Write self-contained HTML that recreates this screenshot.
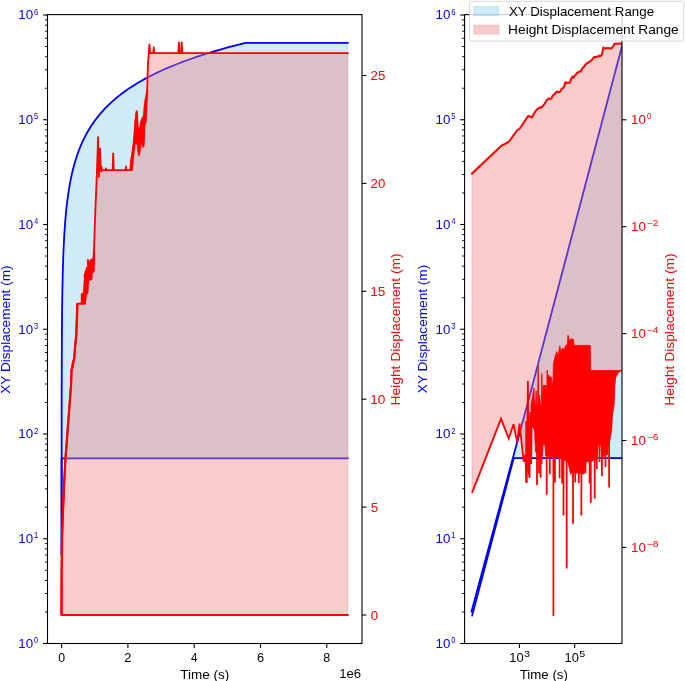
<!DOCTYPE html>
<html><head><meta charset="utf-8"><title>Displacement</title>
<style>html,body{margin:0;padding:0;background:#fff;overflow:hidden}svg{display:block;will-change:transform}</style>
</head><body>
<svg width="685" height="681" viewBox="0 0 685 681" font-family='"Liberation Sans", sans-serif'><defs><clipPath id="cl"><rect x="47.50" y="14.60" width="314.50" height="628.90"/></clipPath>
<clipPath id="cr"><rect x="464.60" y="14.60" width="157.40" height="628.90"/></clipPath></defs>
<g clip-path="url(#cl)">
<polygon points="61.60,614.63 61.60,611.02 61.60,608.92 61.60,606.83 61.60,604.73 61.60,602.64 61.60,600.54 61.60,598.45 61.60,596.35 61.60,594.26 61.60,592.16 61.60,590.07 61.60,587.97 61.60,585.88 61.60,583.78 61.60,581.69 61.60,579.59 61.60,577.50 61.60,575.40 61.60,573.31 61.60,571.21 61.60,569.12 61.60,567.02 61.60,564.93 61.60,562.83 61.60,560.74 61.60,558.64 61.60,556.55 61.60,554.45 61.60,552.36 61.60,550.26 61.60,548.17 61.60,546.07 61.60,543.98 61.60,541.88 61.60,539.79 61.60,537.69 61.60,535.60 61.60,533.50 61.60,531.41 61.60,529.31 61.60,527.22 61.60,525.12 61.60,523.03 61.61,520.93 61.61,518.84 61.61,516.74 61.61,514.65 61.61,512.55 61.61,510.46 61.61,508.36 61.61,506.27 61.61,504.17 61.61,502.08 61.61,499.98 61.61,497.89 61.61,495.79 61.61,493.70 61.61,491.60 61.61,489.51 61.61,487.41 61.61,485.32 61.61,483.22 61.61,481.13 61.61,479.03 61.61,476.94 61.61,474.84 61.61,472.75 61.62,470.65 61.62,468.56 61.62,466.46 61.62,464.37 61.62,462.27 61.62,460.18 61.62,458.08 61.62,455.99 61.62,453.89 61.62,451.80 61.62,449.70 61.63,447.61 61.63,445.51 61.63,443.42 61.63,441.32 61.63,439.23 61.63,437.13 61.63,435.04 61.63,432.94 61.64,430.85 61.64,428.75 61.64,426.66 61.64,424.56 61.64,422.47 61.65,420.37 61.65,418.28 61.65,416.18 61.65,414.09 61.66,411.99 61.66,409.90 61.66,407.80 61.66,405.71 61.67,403.61 61.67,401.52 61.67,399.42 61.68,397.33 61.68,395.23 61.68,393.14 61.69,391.04 61.69,388.95 61.70,386.85 61.70,384.76 61.70,382.66 61.71,380.57 61.71,378.47 61.72,376.38 61.73,374.28 61.73,372.19 61.74,370.09 61.74,368.00 61.75,365.90 61.76,363.81 61.77,361.71 61.77,359.62 61.78,357.52 61.79,355.43 61.80,353.33 61.81,351.24 61.82,349.14 61.83,347.05 61.84,344.95 61.85,342.86 61.86,340.76 61.88,338.67 61.89,336.57 61.90,334.48 61.92,332.38 61.93,330.29 61.95,328.19 61.96,326.10 61.98,324.00 62.00,321.91 62.02,319.81 62.04,317.72 62.06,315.62 62.08,313.53 62.10,311.43 62.13,309.34 62.15,307.24 62.18,305.15 62.20,303.05 62.23,300.96 62.26,298.86 62.29,296.77 62.33,294.67 62.36,292.58 62.40,290.48 62.43,288.39 62.47,286.29 62.51,284.20 62.56,282.10 62.60,280.01 62.65,277.91 62.70,275.82 62.75,273.72 62.80,271.63 62.86,269.53 62.92,267.44 62.98,265.34 63.05,263.25 63.12,261.15 63.19,259.06 63.26,256.96 63.34,254.87 63.42,252.77 63.51,250.68 63.60,248.58 63.69,246.49 63.79,244.39 63.89,242.30 64.00,240.20 64.11,238.11 64.23,236.01 64.36,233.92 64.49,231.82 64.62,229.73 64.77,227.63 64.92,225.54 65.07,223.44 65.23,221.35 65.41,219.25 65.59,217.16 65.77,215.06 65.97,212.97 66.18,210.87 66.39,208.78 66.62,206.68 66.85,204.59 67.10,202.49 67.36,200.40 67.63,198.30 67.92,196.21 68.21,194.11 68.53,192.02 68.85,189.92 69.19,187.83 69.55,185.73 69.93,183.64 70.32,181.54 70.73,179.45 71.16,177.35 71.61,175.26 72.08,173.16 72.58,171.07 73.09,168.97 73.64,166.88 74.20,164.78 74.80,162.69 75.42,160.59 76.07,158.50 76.75,156.40 77.47,154.31 78.21,152.21 79.00,150.12 79.82,148.02 80.68,145.93 81.57,143.83 82.52,141.74 83.50,139.64 84.53,137.55 85.62,135.45 86.75,133.36 87.93,131.26 89.17,129.17 90.47,127.07 91.83,124.98 93.26,122.88 94.75,120.79 96.31,118.69 97.95,116.60 99.66,114.50 101.46,112.41 103.33,110.31 105.30,108.22 107.36,106.12 109.52,104.03 111.77,101.93 114.14,99.84 116.62,97.74 119.21,95.65 121.92,93.55 124.77,91.46 127.74,89.36 130.86,87.27 134.12,85.17 137.54,83.08 141.12,80.98 144.87,78.89 148.79,76.79 152.90,74.70 157.21,72.60 161.71,70.51 166.43,68.41 171.37,66.32 176.54,64.22 181.96,62.13 187.63,60.03 193.57,57.94 199.79,55.84 206.30,53.75 213.12,51.65 220.27,49.56 227.74,47.46 235.57,45.37 243.77,43.27 245.09,42.95 347.78,42.95 347.78,458.47 245.09,458.47 243.77,458.47 235.57,458.47 227.74,458.47 220.27,458.47 213.12,458.47 206.30,458.47 199.79,458.47 193.57,458.47 187.63,458.47 181.96,458.47 176.54,458.47 171.37,458.47 166.43,458.47 161.71,458.47 157.21,458.47 152.90,458.47 148.79,458.47 144.87,458.47 141.12,458.47 137.54,458.47 134.12,458.47 130.86,458.47 127.74,458.47 124.77,458.47 121.92,458.47 119.21,458.47 116.62,458.47 114.14,458.47 111.77,458.47 109.52,458.47 107.36,458.47 105.30,458.47 103.33,458.47 101.46,458.47 99.66,458.47 97.95,458.47 96.31,458.47 94.75,458.47 93.26,458.47 91.83,458.47 90.47,458.47 89.17,458.47 87.93,458.47 86.75,458.47 85.62,458.47 84.53,458.47 83.50,458.47 82.52,458.47 81.57,458.47 80.68,458.47 79.82,458.47 79.00,458.47 78.21,458.47 77.47,458.47 76.75,458.47 76.07,458.47 75.42,458.47 74.80,458.47 74.20,458.47 73.64,458.47 73.09,458.47 72.58,458.47 72.08,458.47 71.61,458.47 71.16,458.47 70.73,458.47 70.32,458.47 69.93,458.47 69.55,458.47 69.19,458.47 68.85,458.47 68.53,458.47 68.21,458.47 67.92,458.47 67.63,458.47 67.36,458.47 67.10,458.47 66.85,458.47 66.62,458.47 66.39,458.47 66.18,458.47 65.97,458.47 65.77,458.47 65.59,458.47 65.41,458.47 65.23,458.47 65.07,458.47 64.92,458.47 64.77,458.47 64.62,458.47 64.49,458.47 64.36,458.47 64.23,458.47 64.11,458.47 64.00,458.47 63.89,458.47 63.79,458.47 63.69,458.47 63.60,458.47 63.51,458.47 63.42,458.47 63.34,458.47 63.26,458.47 63.19,458.47 63.12,458.47 63.05,458.47 62.98,458.47 62.92,458.47 62.86,458.47 62.80,458.47 62.75,458.47 62.70,458.47 62.65,458.47 62.60,458.47 62.56,458.47 62.51,458.47 62.47,458.47 62.43,458.47 62.40,458.47 62.36,458.47 62.33,458.47 62.29,458.47 62.26,458.47 62.23,458.47 62.20,458.47 62.18,458.47 62.15,458.47 62.13,458.47 62.10,458.47 62.08,458.47 62.06,458.47 62.04,458.47 62.02,458.47 62.00,458.47 61.98,458.47 61.96,458.47 61.95,458.47 61.93,458.47 61.92,458.47 61.90,458.47 61.89,458.47 61.88,458.47 61.86,458.47 61.85,458.47 61.84,458.47 61.83,458.47 61.82,458.47 61.81,458.47 61.80,458.47 61.79,458.47 61.78,458.47 61.77,458.47 61.77,458.47 61.76,458.47 61.75,458.47 61.74,458.47 61.74,458.47 61.73,458.47 61.73,458.47 61.72,458.47 61.71,458.47 61.71,458.47 61.70,458.47 61.70,458.47 61.70,458.47 61.69,458.47 61.69,458.47 61.68,458.47 61.68,458.47 61.68,458.47 61.67,458.47 61.67,458.47 61.67,458.47 61.66,458.47 61.66,458.47 61.66,458.47 61.66,458.47 61.65,458.47 61.65,458.47 61.65,458.47 61.65,458.47 61.64,458.47 61.64,458.47 61.64,458.47 61.64,458.47 61.64,458.47 61.63,458.47 61.63,458.47 61.63,458.47 61.63,458.47 61.63,458.47 61.63,458.47 61.63,458.47 61.63,458.47 61.62,458.47 61.62,458.47 61.62,458.47 61.62,458.47 61.62,458.47 61.62,460.18 61.62,462.27 61.62,464.37 61.62,466.46 61.62,468.56 61.62,470.65 61.61,472.75 61.61,474.84 61.61,476.94 61.61,479.03 61.61,481.13 61.61,483.22 61.61,485.32 61.61,487.41 61.61,489.51 61.61,491.60 61.61,493.70 61.61,495.79 61.61,497.89 61.61,499.98 61.61,502.08 61.61,504.17 61.61,506.27 61.61,508.36 61.61,510.46 61.61,512.55 61.61,514.65 61.61,516.74 61.61,518.84 61.61,520.93 61.60,523.03 61.60,525.12 61.60,527.22 61.60,529.31 61.60,531.41 61.60,533.50 61.60,535.60 61.60,537.69 61.60,539.79 61.60,541.88 61.60,543.98 61.60,546.07 61.60,548.17 61.60,550.26 61.60,552.36 61.60,554.45 61.60,556.55 61.60,558.64 61.60,560.74 61.60,562.83 61.60,564.93 61.60,567.02 61.60,569.12 61.60,571.21 61.60,573.31 61.60,575.40 61.60,577.50 61.60,579.59 61.60,581.69 61.60,583.78 61.60,585.88 61.60,587.97 61.60,590.07 61.60,592.16 61.60,594.26 61.60,596.35 61.60,598.45 61.60,600.54 61.60,602.64 61.60,604.73 61.60,606.83 61.60,608.92 61.60,611.02 61.60,614.63" fill="rgba(135,206,235,0.4)" stroke="rgba(135,206,235,0.4)" stroke-width="1"/>
<polyline points="61.60,554.45 61.60,552.36 61.60,550.26 61.60,548.17 61.60,546.07 61.60,543.98 61.60,541.88 61.60,539.79 61.60,537.69 61.60,535.60 61.60,533.50 61.60,531.41 61.60,529.31 61.60,527.22 61.60,525.12 61.60,523.03 61.61,520.93 61.61,518.84 61.61,516.74 61.61,514.65 61.61,512.55 61.61,510.46 61.61,508.36 61.61,506.27 61.61,504.17 61.61,502.08 61.61,499.98 61.61,497.89 61.61,495.79 61.61,493.70 61.61,491.60 61.61,489.51 61.61,487.41 61.61,485.32 61.61,483.22 61.61,481.13 61.61,479.03 61.61,476.94 61.61,474.84 61.61,472.75 61.62,470.65 61.62,468.56 61.62,466.46 61.62,464.37 61.62,462.27 61.62,460.18 61.62,458.08 61.62,455.99 61.62,453.89 61.62,451.80 61.62,449.70 61.63,447.61 61.63,445.51 61.63,443.42 61.63,441.32 61.63,439.23 61.63,437.13 61.63,435.04 61.63,432.94 61.64,430.85 61.64,428.75 61.64,426.66 61.64,424.56 61.64,422.47 61.65,420.37 61.65,418.28 61.65,416.18 61.65,414.09 61.66,411.99 61.66,409.90 61.66,407.80 61.66,405.71 61.67,403.61 61.67,401.52 61.67,399.42 61.68,397.33 61.68,395.23 61.68,393.14 61.69,391.04 61.69,388.95 61.70,386.85 61.70,384.76 61.70,382.66 61.71,380.57 61.71,378.47 61.72,376.38 61.73,374.28 61.73,372.19 61.74,370.09 61.74,368.00 61.75,365.90 61.76,363.81 61.77,361.71 61.77,359.62 61.78,357.52 61.79,355.43 61.80,353.33 61.81,351.24 61.82,349.14 61.83,347.05 61.84,344.95 61.85,342.86 61.86,340.76 61.88,338.67 61.89,336.57 61.90,334.48 61.92,332.38 61.93,330.29 61.95,328.19 61.96,326.10 61.98,324.00 62.00,321.91 62.02,319.81 62.04,317.72 62.06,315.62 62.08,313.53 62.10,311.43 62.13,309.34 62.15,307.24 62.18,305.15 62.20,303.05 62.23,300.96 62.26,298.86 62.29,296.77 62.33,294.67 62.36,292.58 62.40,290.48 62.43,288.39 62.47,286.29 62.51,284.20 62.56,282.10 62.60,280.01 62.65,277.91 62.70,275.82 62.75,273.72 62.80,271.63 62.86,269.53 62.92,267.44 62.98,265.34 63.05,263.25 63.12,261.15 63.19,259.06 63.26,256.96 63.34,254.87 63.42,252.77 63.51,250.68 63.60,248.58 63.69,246.49 63.79,244.39 63.89,242.30 64.00,240.20 64.11,238.11 64.23,236.01 64.36,233.92 64.49,231.82 64.62,229.73 64.77,227.63 64.92,225.54 65.07,223.44 65.23,221.35 65.41,219.25 65.59,217.16 65.77,215.06 65.97,212.97 66.18,210.87 66.39,208.78 66.62,206.68 66.85,204.59 67.10,202.49 67.36,200.40 67.63,198.30 67.92,196.21 68.21,194.11 68.53,192.02 68.85,189.92 69.19,187.83 69.55,185.73 69.93,183.64 70.32,181.54 70.73,179.45 71.16,177.35 71.61,175.26 72.08,173.16 72.58,171.07 73.09,168.97 73.64,166.88 74.20,164.78 74.80,162.69 75.42,160.59 76.07,158.50 76.75,156.40 77.47,154.31 78.21,152.21 79.00,150.12 79.82,148.02 80.68,145.93 81.57,143.83 82.52,141.74 83.50,139.64 84.53,137.55 85.62,135.45 86.75,133.36 87.93,131.26 89.17,129.17 90.47,127.07 91.83,124.98 93.26,122.88 94.75,120.79 96.31,118.69 97.95,116.60 99.66,114.50 101.46,112.41 103.33,110.31 105.30,108.22 107.36,106.12 109.52,104.03 111.77,101.93 114.14,99.84 116.62,97.74 119.21,95.65 121.92,93.55 124.77,91.46 127.74,89.36 130.86,87.27 134.12,85.17 137.54,83.08 141.12,80.98 144.87,78.89 148.79,76.79 152.90,74.70 157.21,72.60 161.71,70.51 166.43,68.41 171.37,66.32 176.54,64.22 181.96,62.13 187.63,60.03 193.57,57.94 199.79,55.84 206.30,53.75 213.12,51.65 220.27,49.56 227.74,47.46 235.57,45.37 243.77,43.27 245.09,42.95 347.78,42.95" fill="none" stroke="#0000ff" stroke-width="1.80" stroke-linejoin="round" stroke-linecap="square"/>
<polyline points="61.60,554.45 61.60,552.36 61.60,550.26 61.60,548.17 61.60,546.07 61.60,543.98 61.60,541.88 61.60,539.79 61.60,537.69 61.60,535.60 61.60,533.50 61.60,531.41 61.60,529.31 61.60,527.22 61.60,525.12 61.60,523.03 61.61,520.93 61.61,518.84 61.61,516.74 61.61,514.65 61.61,512.55 61.61,510.46 61.61,508.36 61.61,506.27 61.61,504.17 61.61,502.08 61.61,499.98 61.61,497.89 61.61,495.79 61.61,493.70 61.61,491.60 61.61,489.51 61.61,487.41 61.61,485.32 61.61,483.22 61.61,481.13 61.61,479.03 61.61,476.94 61.61,474.84 61.61,472.75 61.62,470.65 61.62,468.56 61.62,466.46 61.62,464.37 61.62,462.27 61.62,460.18 61.62,458.47 61.62,458.47 61.62,458.47 61.62,458.47 61.62,458.47 61.63,458.47 61.63,458.47 61.63,458.47 61.63,458.47 61.63,458.47 61.63,458.47 61.63,458.47 61.63,458.47 61.64,458.47 61.64,458.47 61.64,458.47 61.64,458.47 61.64,458.47 61.65,458.47 61.65,458.47 61.65,458.47 61.65,458.47 61.66,458.47 61.66,458.47 61.66,458.47 61.66,458.47 61.67,458.47 61.67,458.47 61.67,458.47 61.68,458.47 61.68,458.47 61.68,458.47 61.69,458.47 61.69,458.47 61.70,458.47 61.70,458.47 61.70,458.47 61.71,458.47 61.71,458.47 61.72,458.47 61.73,458.47 61.73,458.47 61.74,458.47 61.74,458.47 61.75,458.47 61.76,458.47 61.77,458.47 61.77,458.47 61.78,458.47 61.79,458.47 61.80,458.47 61.81,458.47 61.82,458.47 61.83,458.47 61.84,458.47 61.85,458.47 61.86,458.47 61.88,458.47 61.89,458.47 61.90,458.47 61.92,458.47 61.93,458.47 61.95,458.47 61.96,458.47 61.98,458.47 62.00,458.47 62.02,458.47 62.04,458.47 62.06,458.47 62.08,458.47 62.10,458.47 62.13,458.47 62.15,458.47 62.18,458.47 62.20,458.47 62.23,458.47 62.26,458.47 62.29,458.47 62.33,458.47 62.36,458.47 62.40,458.47 62.43,458.47 62.47,458.47 62.51,458.47 62.56,458.47 62.60,458.47 62.65,458.47 62.70,458.47 62.75,458.47 62.80,458.47 62.86,458.47 62.92,458.47 62.98,458.47 63.05,458.47 63.12,458.47 63.19,458.47 63.26,458.47 63.34,458.47 63.42,458.47 63.51,458.47 63.60,458.47 63.69,458.47 63.79,458.47 63.89,458.47 64.00,458.47 64.11,458.47 64.23,458.47 64.36,458.47 64.49,458.47 64.62,458.47 64.77,458.47 64.92,458.47 65.07,458.47 65.23,458.47 65.41,458.47 65.59,458.47 65.77,458.47 65.97,458.47 66.18,458.47 66.39,458.47 66.62,458.47 66.85,458.47 67.10,458.47 67.36,458.47 67.63,458.47 67.92,458.47 68.21,458.47 68.53,458.47 68.85,458.47 69.19,458.47 69.55,458.47 69.93,458.47 70.32,458.47 70.73,458.47 71.16,458.47 71.61,458.47 72.08,458.47 72.58,458.47 73.09,458.47 73.64,458.47 74.20,458.47 74.80,458.47 75.42,458.47 76.07,458.47 76.75,458.47 77.47,458.47 78.21,458.47 79.00,458.47 79.82,458.47 80.68,458.47 81.57,458.47 82.52,458.47 83.50,458.47 84.53,458.47 85.62,458.47 86.75,458.47 87.93,458.47 89.17,458.47 90.47,458.47 91.83,458.47 93.26,458.47 94.75,458.47 96.31,458.47 97.95,458.47 99.66,458.47 101.46,458.47 103.33,458.47 105.30,458.47 107.36,458.47 109.52,458.47 111.77,458.47 114.14,458.47 116.62,458.47 119.21,458.47 121.92,458.47 124.77,458.47 127.74,458.47 130.86,458.47 134.12,458.47 137.54,458.47 141.12,458.47 144.87,458.47 148.79,458.47 152.90,458.47 157.21,458.47 161.71,458.47 166.43,458.47 171.37,458.47 176.54,458.47 181.96,458.47 187.63,458.47 193.57,458.47 199.79,458.47 206.30,458.47 213.12,458.47 220.27,458.47 227.74,458.47 235.57,458.47 243.77,458.47 245.09,458.47 347.78,458.47" fill="none" stroke="#0000ff" stroke-width="1.80" stroke-linejoin="round" stroke-linecap="square"/>
</g>
<polygon points="61.50,615.00 61.60,569.00 62.10,536.00 63.30,503.00 64.30,480.00 65.50,457.80 67.00,438.70 69.20,409.40 71.10,384.00 71.50,369.60 73.00,362.00 72.60,367.00 74.30,358.00 75.00,347.70 76.30,334.80 77.40,303.60 84.70,303.60 84.00,296.00 85.50,300.00 86.00,290.00 84.60,275.00 88.00,282.00 86.50,268.00 90.50,276.00 88.50,261.00 93.00,272.00 91.50,260.00 94.20,265.00 94.00,250.00 94.70,228.80 95.40,209.40 96.80,175.90 98.10,137.10 98.90,176.80 100.00,148.50 100.70,166.20 101.20,171.50 101.60,166.90 102.00,170.10 105.50,170.10 105.90,168.40 106.30,170.10 112.60,170.10 113.20,153.30 113.80,170.10 125.50,170.10 126.00,166.50 126.50,170.10 130.20,170.10 133.50,145.00 136.50,112.00 138.50,150.00 139.80,128.00 141.20,140.00 142.50,125.00 143.50,142.00 145.00,110.00 146.50,100.00 147.20,90.00 147.90,64.40 148.90,52.90 149.40,44.30 150.20,53.20 153.20,53.20 153.70,47.50 154.20,53.20 178.40,53.20 178.90,42.30 179.60,53.20 181.20,53.20 181.70,42.30 182.30,53.20 347.80,53.20 347.80,615.00 61.60,615.00" fill="rgba(240,128,128,0.4)" stroke="rgba(240,128,128,0.4)" stroke-width="1"/>
<polyline points="61.50,615.00 61.60,569.00 62.10,536.00 63.30,503.00 64.30,480.00 65.50,457.80 67.00,438.70 69.20,409.40 71.10,384.00 71.50,369.60 73.00,362.00 72.60,367.00 74.30,358.00 75.00,347.70 76.30,334.80 77.40,303.60 84.70,303.60 84.00,296.00 85.50,300.00 86.00,290.00 84.60,275.00 88.00,282.00 86.50,268.00 90.50,276.00 88.50,261.00 93.00,272.00 91.50,260.00 94.20,265.00 94.00,250.00 94.70,228.80 95.40,209.40 96.80,175.90 98.10,137.10 98.90,176.80 100.00,148.50 100.70,166.20 101.20,171.50 101.60,166.90 102.00,170.10 105.50,170.10 105.90,168.40 106.30,170.10 112.60,170.10 113.20,153.30 113.80,170.10 125.50,170.10 126.00,166.50 126.50,170.10 130.20,170.10 133.50,145.00 136.50,112.00 138.50,150.00 139.80,128.00 141.20,140.00 142.50,125.00 143.50,142.00 145.00,110.00 146.50,100.00 147.20,90.00 147.90,64.40 148.90,52.90 149.40,44.30 150.20,53.20 153.20,53.20 153.70,47.50 154.20,53.20 178.40,53.20 178.90,42.30 179.60,53.20 181.20,53.20 181.70,42.30 182.30,53.20 347.80,53.20" fill="none" stroke="#ff0000" stroke-width="1.80" stroke-linejoin="round" stroke-linecap="square"/>
<line x1="61.6" y1="615" x2="347.8" y2="615" stroke="#ff0000" stroke-width="1.80" stroke-linecap="square"/>
<polyline points="61.50,614.50 61.60,590.00 61.70,569.00 62.10,536.00 63.30,503.00 64.30,480.00 65.50,457.80 67.00,438.70 69.20,409.40 71.10,384.00 71.50,369.60 72.60,367.00 73.00,362.00 74.30,358.00 75.00,347.70 76.30,334.80 77.40,303.60" fill="none" stroke="#ff0000" stroke-width="2.3" stroke-linejoin="round" stroke-linecap="butt"/>
<polygon points="77.10,303.30 81.00,303.30 81.00,293.60 82.80,293.60 83.30,290.00 84.60,272.90 85.00,270.30 87.20,270.30 87.20,259.30 88.50,259.30 89.40,263.70 90.30,259.30 92.50,258.80 93.40,250.00 94.70,250.00 94.70,271.10 92.50,272.90 92.10,280.00 89.00,280.40 88.10,294.00 85.90,294.50 85.50,304.20 77.50,304.20" fill="#ff0000" stroke="#ff0000" stroke-width="0.4"/>
<polygon points="130.00,170.50 130.40,160.00 132.80,147.80 134.00,138.20 134.60,121.30 135.80,114.10 136.40,110.50 137.60,111.10 138.20,123.70 139.40,135.80 140.00,122.50 141.90,117.70 143.10,115.90 144.30,102.00 145.50,96.00 146.70,90.00 147.90,90.00 147.30,102.00 146.70,120.10 144.90,127.30 144.30,146.60 142.50,147.80 141.90,141.80 139.40,156.30 138.20,155.10 137.00,144.20 135.20,144.20 133.40,162.30 132.80,170.50" fill="#ff0000" stroke="#ff0000" stroke-width="0.4"/>
<g clip-path="url(#cr)">
<polygon points="472.00,613.50 471.50,611.60 530.00,394.53 640.00,-22.15 640.00,458.20 513.69,458.20 472.20,615.50" fill="rgba(135,206,235,0.4)" stroke="rgba(135,206,235,0.4)" stroke-width="1"/>
<polyline points="471.50,611.60 530.00,394.53 640.00,-22.15" fill="none" stroke="#0000ff" stroke-width="1.80" stroke-linejoin="round" stroke-linecap="square"/>
<polyline points="472.20,615.50 513.69,458.20 640.00,458.20" fill="none" stroke="#0000ff" stroke-width="1.80" stroke-linejoin="round" stroke-linecap="square"/>
<polygon points="472.00,173.50 501.10,146.00 508.70,141.90 517.00,130.50 519.60,128.70 528.10,116.00 532.00,117.30 535.50,111.10 537.20,109.30 539.90,107.20 542.50,106.70 545.60,102.00 548.70,98.30 550.50,98.90 554.90,93.90 557.40,91.50 559.20,92.10 563.00,88.30 565.40,82.10 569.80,82.80 572.30,76.60 573.50,77.80 577.80,72.80 580.90,71.60 583.40,67.30 587.10,62.90 591.50,60.40 594.00,57.10 597.70,56.70 602.00,54.20 603.30,47.40 604.50,48.60 607.60,48.00 611.30,48.60 613.20,46.20 614.40,43.70 625.00,43.40 625.00,370.60 621.30,370.60 621.30,370.60 590.70,370.60 590.20,345.40 574.00,345.40 573.30,339.10 570.30,339.10 569.40,343.00 568.60,336.00 567.90,335.30 567.40,345.00 566.00,345.00 564.10,349.80 562.60,347.90 561.10,351.70 559.70,345.90 558.20,356.60 556.80,351.70 555.30,355.60 553.40,363.90 553.00,383.00 551.90,383.20 551.50,377.40 550.00,377.00 548.40,375.00 547.90,376.00 547.10,370.10 546.60,405.00 546.20,385.50 543.10,385.50 542.50,405.00 541.80,373.70 541.40,405.00 540.40,405.00 539.60,395.00 538.80,405.00 538.10,364.80 537.60,405.00 536.80,405.00 536.10,390.80 535.60,405.00 534.60,405.00 533.90,387.80 531.20,405.00 531.80,402.00 531.20,464.00 530.30,412.00 529.50,478.00 528.60,470.00 527.90,381.10 526.70,483.00 525.20,455.00 523.70,461.70 523.00,455.80 519.60,423.50 517.10,441.90 513.50,424.20 508.80,438.50 501.00,418.80 472.00,492.90" fill="rgba(240,128,128,0.4)" stroke="rgba(240,128,128,0.4)" stroke-width="1"/>
<polyline points="472.00,173.50 501.10,146.00 508.70,141.90 517.00,130.50 519.60,128.70 528.10,116.00 532.00,117.30 535.50,111.10 537.20,109.30 538.10,108.50 539.00,108.02 539.90,107.20 540.77,107.88 541.63,106.80 542.50,106.70 543.53,105.15 544.57,103.74 545.60,102.00 546.63,100.14 547.67,99.56 548.70,98.30 549.60,98.86 550.50,98.90 551.60,98.24 552.70,95.59 553.80,94.76 554.90,93.90 556.15,91.88 557.40,91.50 558.30,92.42 559.20,92.10 560.47,91.22 561.73,88.65 563.00,88.30 564.20,86.16 565.40,82.10 566.50,83.20 567.60,82.76 568.70,82.86 569.80,82.80 571.05,79.01 572.30,76.60 573.50,77.80 574.58,75.58 575.65,75.36 576.72,73.17 577.80,72.80 578.83,71.78 579.87,71.48 580.90,71.60 582.15,68.51 583.40,67.30 584.63,65.76 585.87,64.25 587.10,62.90 588.20,62.96 589.30,61.69 590.40,61.31 591.50,60.40 592.75,58.75 594.00,57.10 595.23,57.29 596.47,56.75 597.70,56.70 598.78,55.63 599.85,56.45 600.92,55.82 602.00,54.20 603.30,47.40 604.50,48.60 607.60,48.00 611.30,48.60 613.20,46.20 614.40,43.70 625.00,43.40" fill="none" stroke="#ff0000" stroke-width="2.0" stroke-linejoin="round" stroke-linecap="square"/>
<polyline points="472.00,492.90 501.00,418.80 508.80,438.50 513.50,424.20 517.10,441.90 519.60,423.50 523.00,455.80 523.70,461.70 525.20,455.00 526.70,483.00 527.90,381.10 528.60,470.00 529.50,478.00 530.30,412.00 531.20,464.00 531.80,402.00" fill="none" stroke="#ff0000" stroke-width="1.80" stroke-linejoin="miter" stroke-miterlimit="3"/>
<polygon points="531.20,405.00 533.90,387.80 534.60,405.00 535.60,405.00 536.10,390.80 536.80,405.00 537.60,405.00 538.10,364.80 538.80,405.00 539.60,395.00 540.40,405.00 541.40,405.00 541.80,373.70 542.50,405.00 543.10,385.50 546.20,385.50 546.60,405.00 547.10,370.10 547.90,376.00 548.40,375.00 550.00,377.00 551.50,377.40 551.90,383.20 553.00,383.00 553.40,363.90 555.30,355.60 556.80,351.70 558.20,356.60 559.70,345.90 561.10,351.70 562.60,347.90 564.10,349.80 566.00,345.00 567.40,345.00 567.90,335.30 568.60,336.00 569.40,343.00 570.30,339.10 573.30,339.10 574.00,345.40 590.20,345.40 590.70,370.60 621.30,370.60 621.30,370.60 618.10,372.90 615.70,377.80 614.90,385.80 614.10,405.20 612.50,415.00 611.70,430.00 610.00,440.00 606.00,455.00 601.50,458.00 601.00,445.00 598.00,445.00 597.00,460.00 586.00,462.00 584.00,474.00 570.00,472.00 568.00,462.00 560.00,458.00 545.50,456.00 545.00,445.00 543.00,445.00 542.50,456.00 540.00,456.00 535.50,452.00 534.50,430.00 531.20,425.00" fill="#ff0000" stroke="#ff0000" stroke-width="0.8" stroke-linejoin="miter"/>
<line x1="621.3" y1="370.6" x2="625" y2="370.6" stroke="#ff0000" stroke-width="1.80"/>
<line x1="526.20" y1="421.00" x2="526.20" y2="482.90" stroke="#ff0000" stroke-width="1.8" stroke-linecap="butt"/>
<line x1="530.80" y1="421.00" x2="530.80" y2="463.40" stroke="#ff0000" stroke-width="1.8" stroke-linecap="butt"/>
<line x1="537.00" y1="436.00" x2="537.00" y2="485.00" stroke="#ff0000" stroke-width="1.8" stroke-linecap="butt"/>
<line x1="539.00" y1="436.00" x2="539.00" y2="473.20" stroke="#ff0000" stroke-width="1.8" stroke-linecap="butt"/>
<line x1="540.60" y1="436.00" x2="540.60" y2="477.80" stroke="#ff0000" stroke-width="1.8" stroke-linecap="butt"/>
<line x1="541.60" y1="436.00" x2="541.60" y2="463.90" stroke="#ff0000" stroke-width="1.8" stroke-linecap="butt"/>
<line x1="546.70" y1="436.00" x2="546.70" y2="494.70" stroke="#ff0000" stroke-width="1.8" stroke-linecap="butt"/>
<line x1="549.80" y1="436.00" x2="549.80" y2="474.20" stroke="#ff0000" stroke-width="1.8" stroke-linecap="butt"/>
<line x1="553.40" y1="436.00" x2="553.40" y2="616.00" stroke="#ff0000" stroke-width="1.8" stroke-linecap="butt"/>
<line x1="554.90" y1="436.00" x2="554.90" y2="482.40" stroke="#ff0000" stroke-width="1.8" stroke-linecap="butt"/>
<line x1="559.60" y1="436.00" x2="559.60" y2="478.30" stroke="#ff0000" stroke-width="1.8" stroke-linecap="butt"/>
<line x1="562.10" y1="436.00" x2="562.10" y2="483.40" stroke="#ff0000" stroke-width="1.8" stroke-linecap="butt"/>
<line x1="563.50" y1="436.00" x2="563.50" y2="515.40" stroke="#ff0000" stroke-width="1.8" stroke-linecap="butt"/>
<line x1="566.70" y1="436.00" x2="566.70" y2="568.50" stroke="#ff0000" stroke-width="1.8" stroke-linecap="butt"/>
<line x1="570.90" y1="436.00" x2="570.90" y2="474.20" stroke="#ff0000" stroke-width="1.8" stroke-linecap="butt"/>
<line x1="573.00" y1="436.00" x2="573.00" y2="523.80" stroke="#ff0000" stroke-width="1.8" stroke-linecap="butt"/>
<line x1="575.20" y1="436.00" x2="575.20" y2="482.40" stroke="#ff0000" stroke-width="1.8" stroke-linecap="butt"/>
<line x1="578.80" y1="436.00" x2="578.80" y2="483.00" stroke="#ff0000" stroke-width="1.8" stroke-linecap="butt"/>
<line x1="581.40" y1="436.00" x2="581.40" y2="515.40" stroke="#ff0000" stroke-width="1.8" stroke-linecap="butt"/>
<line x1="585.50" y1="436.00" x2="585.50" y2="473.20" stroke="#ff0000" stroke-width="1.8" stroke-linecap="butt"/>
<line x1="589.60" y1="436.00" x2="589.60" y2="483.40" stroke="#ff0000" stroke-width="1.8" stroke-linecap="butt"/>
<line x1="590.80" y1="436.00" x2="590.80" y2="502.80" stroke="#ff0000" stroke-width="1.8" stroke-linecap="butt"/>
<line x1="594.70" y1="436.00" x2="594.70" y2="498.70" stroke="#ff0000" stroke-width="1.8" stroke-linecap="butt"/>
<line x1="596.80" y1="436.00" x2="596.80" y2="469.00" stroke="#ff0000" stroke-width="1.8" stroke-linecap="butt"/>
<line x1="601.90" y1="436.00" x2="601.90" y2="476.20" stroke="#ff0000" stroke-width="1.8" stroke-linecap="butt"/>
<line x1="605.50" y1="436.00" x2="605.50" y2="467.00" stroke="#ff0000" stroke-width="1.8" stroke-linecap="butt"/>
<line x1="609.10" y1="436.00" x2="609.10" y2="487.60" stroke="#ff0000" stroke-width="1.8" stroke-linecap="butt"/>
<line x1="599.50" y1="436.00" x2="599.50" y2="462.00" stroke="#ff0000" stroke-width="1.8" stroke-linecap="butt"/>
<line x1="607.20" y1="436.00" x2="607.20" y2="455.00" stroke="#ff0000" stroke-width="1.8" stroke-linecap="butt"/>
</g>
<rect x="47.50" y="14.60" width="314.50" height="628.90" fill="none" stroke="#000" stroke-width="1.10"/>
<line x1="43.10" y1="643.50" x2="47.50" y2="643.50" stroke="#000" stroke-width="1.10"/>
<line x1="44.90" y1="611.97" x2="47.50" y2="611.97" stroke="#000" stroke-width="0.90"/>
<line x1="44.90" y1="593.52" x2="47.50" y2="593.52" stroke="#000" stroke-width="0.90"/>
<line x1="44.90" y1="580.43" x2="47.50" y2="580.43" stroke="#000" stroke-width="0.90"/>
<line x1="44.90" y1="570.28" x2="47.50" y2="570.28" stroke="#000" stroke-width="0.90"/>
<line x1="44.90" y1="561.99" x2="47.50" y2="561.99" stroke="#000" stroke-width="0.90"/>
<line x1="44.90" y1="554.98" x2="47.50" y2="554.98" stroke="#000" stroke-width="0.90"/>
<line x1="44.90" y1="548.90" x2="47.50" y2="548.90" stroke="#000" stroke-width="0.90"/>
<line x1="44.90" y1="543.54" x2="47.50" y2="543.54" stroke="#000" stroke-width="0.90"/>
<line x1="43.10" y1="538.75" x2="47.50" y2="538.75" stroke="#000" stroke-width="1.10"/>
<line x1="44.90" y1="507.22" x2="47.50" y2="507.22" stroke="#000" stroke-width="0.90"/>
<line x1="44.90" y1="488.77" x2="47.50" y2="488.77" stroke="#000" stroke-width="0.90"/>
<line x1="44.90" y1="475.68" x2="47.50" y2="475.68" stroke="#000" stroke-width="0.90"/>
<line x1="44.90" y1="465.53" x2="47.50" y2="465.53" stroke="#000" stroke-width="0.90"/>
<line x1="44.90" y1="457.24" x2="47.50" y2="457.24" stroke="#000" stroke-width="0.90"/>
<line x1="44.90" y1="450.23" x2="47.50" y2="450.23" stroke="#000" stroke-width="0.90"/>
<line x1="44.90" y1="444.15" x2="47.50" y2="444.15" stroke="#000" stroke-width="0.90"/>
<line x1="44.90" y1="438.79" x2="47.50" y2="438.79" stroke="#000" stroke-width="0.90"/>
<line x1="43.10" y1="434.00" x2="47.50" y2="434.00" stroke="#000" stroke-width="1.10"/>
<line x1="44.90" y1="402.47" x2="47.50" y2="402.47" stroke="#000" stroke-width="0.90"/>
<line x1="44.90" y1="384.02" x2="47.50" y2="384.02" stroke="#000" stroke-width="0.90"/>
<line x1="44.90" y1="370.93" x2="47.50" y2="370.93" stroke="#000" stroke-width="0.90"/>
<line x1="44.90" y1="360.78" x2="47.50" y2="360.78" stroke="#000" stroke-width="0.90"/>
<line x1="44.90" y1="352.49" x2="47.50" y2="352.49" stroke="#000" stroke-width="0.90"/>
<line x1="44.90" y1="345.48" x2="47.50" y2="345.48" stroke="#000" stroke-width="0.90"/>
<line x1="44.90" y1="339.40" x2="47.50" y2="339.40" stroke="#000" stroke-width="0.90"/>
<line x1="44.90" y1="334.04" x2="47.50" y2="334.04" stroke="#000" stroke-width="0.90"/>
<line x1="43.10" y1="329.25" x2="47.50" y2="329.25" stroke="#000" stroke-width="1.10"/>
<line x1="44.90" y1="297.72" x2="47.50" y2="297.72" stroke="#000" stroke-width="0.90"/>
<line x1="44.90" y1="279.27" x2="47.50" y2="279.27" stroke="#000" stroke-width="0.90"/>
<line x1="44.90" y1="266.18" x2="47.50" y2="266.18" stroke="#000" stroke-width="0.90"/>
<line x1="44.90" y1="256.03" x2="47.50" y2="256.03" stroke="#000" stroke-width="0.90"/>
<line x1="44.90" y1="247.74" x2="47.50" y2="247.74" stroke="#000" stroke-width="0.90"/>
<line x1="44.90" y1="240.73" x2="47.50" y2="240.73" stroke="#000" stroke-width="0.90"/>
<line x1="44.90" y1="234.65" x2="47.50" y2="234.65" stroke="#000" stroke-width="0.90"/>
<line x1="44.90" y1="229.29" x2="47.50" y2="229.29" stroke="#000" stroke-width="0.90"/>
<line x1="43.10" y1="224.50" x2="47.50" y2="224.50" stroke="#000" stroke-width="1.10"/>
<line x1="44.90" y1="192.97" x2="47.50" y2="192.97" stroke="#000" stroke-width="0.90"/>
<line x1="44.90" y1="174.52" x2="47.50" y2="174.52" stroke="#000" stroke-width="0.90"/>
<line x1="44.90" y1="161.43" x2="47.50" y2="161.43" stroke="#000" stroke-width="0.90"/>
<line x1="44.90" y1="151.28" x2="47.50" y2="151.28" stroke="#000" stroke-width="0.90"/>
<line x1="44.90" y1="142.99" x2="47.50" y2="142.99" stroke="#000" stroke-width="0.90"/>
<line x1="44.90" y1="135.98" x2="47.50" y2="135.98" stroke="#000" stroke-width="0.90"/>
<line x1="44.90" y1="129.90" x2="47.50" y2="129.90" stroke="#000" stroke-width="0.90"/>
<line x1="44.90" y1="124.54" x2="47.50" y2="124.54" stroke="#000" stroke-width="0.90"/>
<line x1="43.10" y1="119.75" x2="47.50" y2="119.75" stroke="#000" stroke-width="1.10"/>
<line x1="44.90" y1="88.22" x2="47.50" y2="88.22" stroke="#000" stroke-width="0.90"/>
<line x1="44.90" y1="69.77" x2="47.50" y2="69.77" stroke="#000" stroke-width="0.90"/>
<line x1="44.90" y1="56.68" x2="47.50" y2="56.68" stroke="#000" stroke-width="0.90"/>
<line x1="44.90" y1="46.53" x2="47.50" y2="46.53" stroke="#000" stroke-width="0.90"/>
<line x1="44.90" y1="38.24" x2="47.50" y2="38.24" stroke="#000" stroke-width="0.90"/>
<line x1="44.90" y1="31.23" x2="47.50" y2="31.23" stroke="#000" stroke-width="0.90"/>
<line x1="44.90" y1="25.15" x2="47.50" y2="25.15" stroke="#000" stroke-width="0.90"/>
<line x1="44.90" y1="19.79" x2="47.50" y2="19.79" stroke="#000" stroke-width="0.90"/>
<line x1="43.10" y1="15.00" x2="47.50" y2="15.00" stroke="#000" stroke-width="1.10"/>
<rect x="464.60" y="14.60" width="157.40" height="628.90" fill="none" stroke="#000" stroke-width="1.10"/>
<line x1="460.20" y1="643.50" x2="464.60" y2="643.50" stroke="#000" stroke-width="1.10"/>
<line x1="462.00" y1="611.97" x2="464.60" y2="611.97" stroke="#000" stroke-width="0.90"/>
<line x1="462.00" y1="593.52" x2="464.60" y2="593.52" stroke="#000" stroke-width="0.90"/>
<line x1="462.00" y1="580.43" x2="464.60" y2="580.43" stroke="#000" stroke-width="0.90"/>
<line x1="462.00" y1="570.28" x2="464.60" y2="570.28" stroke="#000" stroke-width="0.90"/>
<line x1="462.00" y1="561.99" x2="464.60" y2="561.99" stroke="#000" stroke-width="0.90"/>
<line x1="462.00" y1="554.98" x2="464.60" y2="554.98" stroke="#000" stroke-width="0.90"/>
<line x1="462.00" y1="548.90" x2="464.60" y2="548.90" stroke="#000" stroke-width="0.90"/>
<line x1="462.00" y1="543.54" x2="464.60" y2="543.54" stroke="#000" stroke-width="0.90"/>
<line x1="460.20" y1="538.75" x2="464.60" y2="538.75" stroke="#000" stroke-width="1.10"/>
<line x1="462.00" y1="507.22" x2="464.60" y2="507.22" stroke="#000" stroke-width="0.90"/>
<line x1="462.00" y1="488.77" x2="464.60" y2="488.77" stroke="#000" stroke-width="0.90"/>
<line x1="462.00" y1="475.68" x2="464.60" y2="475.68" stroke="#000" stroke-width="0.90"/>
<line x1="462.00" y1="465.53" x2="464.60" y2="465.53" stroke="#000" stroke-width="0.90"/>
<line x1="462.00" y1="457.24" x2="464.60" y2="457.24" stroke="#000" stroke-width="0.90"/>
<line x1="462.00" y1="450.23" x2="464.60" y2="450.23" stroke="#000" stroke-width="0.90"/>
<line x1="462.00" y1="444.15" x2="464.60" y2="444.15" stroke="#000" stroke-width="0.90"/>
<line x1="462.00" y1="438.79" x2="464.60" y2="438.79" stroke="#000" stroke-width="0.90"/>
<line x1="460.20" y1="434.00" x2="464.60" y2="434.00" stroke="#000" stroke-width="1.10"/>
<line x1="462.00" y1="402.47" x2="464.60" y2="402.47" stroke="#000" stroke-width="0.90"/>
<line x1="462.00" y1="384.02" x2="464.60" y2="384.02" stroke="#000" stroke-width="0.90"/>
<line x1="462.00" y1="370.93" x2="464.60" y2="370.93" stroke="#000" stroke-width="0.90"/>
<line x1="462.00" y1="360.78" x2="464.60" y2="360.78" stroke="#000" stroke-width="0.90"/>
<line x1="462.00" y1="352.49" x2="464.60" y2="352.49" stroke="#000" stroke-width="0.90"/>
<line x1="462.00" y1="345.48" x2="464.60" y2="345.48" stroke="#000" stroke-width="0.90"/>
<line x1="462.00" y1="339.40" x2="464.60" y2="339.40" stroke="#000" stroke-width="0.90"/>
<line x1="462.00" y1="334.04" x2="464.60" y2="334.04" stroke="#000" stroke-width="0.90"/>
<line x1="460.20" y1="329.25" x2="464.60" y2="329.25" stroke="#000" stroke-width="1.10"/>
<line x1="462.00" y1="297.72" x2="464.60" y2="297.72" stroke="#000" stroke-width="0.90"/>
<line x1="462.00" y1="279.27" x2="464.60" y2="279.27" stroke="#000" stroke-width="0.90"/>
<line x1="462.00" y1="266.18" x2="464.60" y2="266.18" stroke="#000" stroke-width="0.90"/>
<line x1="462.00" y1="256.03" x2="464.60" y2="256.03" stroke="#000" stroke-width="0.90"/>
<line x1="462.00" y1="247.74" x2="464.60" y2="247.74" stroke="#000" stroke-width="0.90"/>
<line x1="462.00" y1="240.73" x2="464.60" y2="240.73" stroke="#000" stroke-width="0.90"/>
<line x1="462.00" y1="234.65" x2="464.60" y2="234.65" stroke="#000" stroke-width="0.90"/>
<line x1="462.00" y1="229.29" x2="464.60" y2="229.29" stroke="#000" stroke-width="0.90"/>
<line x1="460.20" y1="224.50" x2="464.60" y2="224.50" stroke="#000" stroke-width="1.10"/>
<line x1="462.00" y1="192.97" x2="464.60" y2="192.97" stroke="#000" stroke-width="0.90"/>
<line x1="462.00" y1="174.52" x2="464.60" y2="174.52" stroke="#000" stroke-width="0.90"/>
<line x1="462.00" y1="161.43" x2="464.60" y2="161.43" stroke="#000" stroke-width="0.90"/>
<line x1="462.00" y1="151.28" x2="464.60" y2="151.28" stroke="#000" stroke-width="0.90"/>
<line x1="462.00" y1="142.99" x2="464.60" y2="142.99" stroke="#000" stroke-width="0.90"/>
<line x1="462.00" y1="135.98" x2="464.60" y2="135.98" stroke="#000" stroke-width="0.90"/>
<line x1="462.00" y1="129.90" x2="464.60" y2="129.90" stroke="#000" stroke-width="0.90"/>
<line x1="462.00" y1="124.54" x2="464.60" y2="124.54" stroke="#000" stroke-width="0.90"/>
<line x1="460.20" y1="119.75" x2="464.60" y2="119.75" stroke="#000" stroke-width="1.10"/>
<line x1="462.00" y1="88.22" x2="464.60" y2="88.22" stroke="#000" stroke-width="0.90"/>
<line x1="462.00" y1="69.77" x2="464.60" y2="69.77" stroke="#000" stroke-width="0.90"/>
<line x1="462.00" y1="56.68" x2="464.60" y2="56.68" stroke="#000" stroke-width="0.90"/>
<line x1="462.00" y1="46.53" x2="464.60" y2="46.53" stroke="#000" stroke-width="0.90"/>
<line x1="462.00" y1="38.24" x2="464.60" y2="38.24" stroke="#000" stroke-width="0.90"/>
<line x1="462.00" y1="31.23" x2="464.60" y2="31.23" stroke="#000" stroke-width="0.90"/>
<line x1="462.00" y1="25.15" x2="464.60" y2="25.15" stroke="#000" stroke-width="0.90"/>
<line x1="462.00" y1="19.79" x2="464.60" y2="19.79" stroke="#000" stroke-width="0.90"/>
<line x1="460.20" y1="15.00" x2="464.60" y2="15.00" stroke="#000" stroke-width="1.10"/>
<text x="18.23" y="647.90" font-size="12.60" fill="#0000ff" textLength="14.84" lengthAdjust="spacingAndGlyphs">10</text>
<text x="34.06" y="643.10" font-size="8.80" fill="#0000ff" textLength="4.19" lengthAdjust="spacingAndGlyphs">0</text>
<text x="435.53" y="647.90" font-size="12.60" fill="#0000ff" textLength="14.84" lengthAdjust="spacingAndGlyphs">10</text>
<text x="451.36" y="643.10" font-size="8.80" fill="#0000ff" textLength="4.19" lengthAdjust="spacingAndGlyphs">0</text>
<text x="18.23" y="543.15" font-size="12.60" fill="#0000ff" textLength="14.84" lengthAdjust="spacingAndGlyphs">10</text>
<text x="33.71" y="538.35" font-size="8.80" fill="#0000ff" textLength="4.64" lengthAdjust="spacingAndGlyphs">1</text>
<text x="435.53" y="543.15" font-size="12.60" fill="#0000ff" textLength="14.84" lengthAdjust="spacingAndGlyphs">10</text>
<text x="451.01" y="538.35" font-size="8.80" fill="#0000ff" textLength="4.64" lengthAdjust="spacingAndGlyphs">1</text>
<text x="18.23" y="438.40" font-size="12.60" fill="#0000ff" textLength="14.84" lengthAdjust="spacingAndGlyphs">10</text>
<text x="33.95" y="433.60" font-size="8.80" fill="#0000ff" textLength="4.39" lengthAdjust="spacingAndGlyphs">2</text>
<text x="435.53" y="438.40" font-size="12.60" fill="#0000ff" textLength="14.84" lengthAdjust="spacingAndGlyphs">10</text>
<text x="451.25" y="433.60" font-size="8.80" fill="#0000ff" textLength="4.39" lengthAdjust="spacingAndGlyphs">2</text>
<text x="18.23" y="333.65" font-size="12.60" fill="#0000ff" textLength="14.84" lengthAdjust="spacingAndGlyphs">10</text>
<text x="34.06" y="328.85" font-size="8.80" fill="#0000ff" textLength="4.22" lengthAdjust="spacingAndGlyphs">3</text>
<text x="435.53" y="333.65" font-size="12.60" fill="#0000ff" textLength="14.84" lengthAdjust="spacingAndGlyphs">10</text>
<text x="451.36" y="328.85" font-size="8.80" fill="#0000ff" textLength="4.22" lengthAdjust="spacingAndGlyphs">3</text>
<text x="18.23" y="228.90" font-size="12.60" fill="#0000ff" textLength="14.84" lengthAdjust="spacingAndGlyphs">10</text>
<text x="34.19" y="224.10" font-size="8.80" fill="#0000ff" textLength="3.97" lengthAdjust="spacingAndGlyphs">4</text>
<text x="435.53" y="228.90" font-size="12.60" fill="#0000ff" textLength="14.84" lengthAdjust="spacingAndGlyphs">10</text>
<text x="451.49" y="224.10" font-size="8.80" fill="#0000ff" textLength="3.97" lengthAdjust="spacingAndGlyphs">4</text>
<text x="18.23" y="124.15" font-size="12.60" fill="#0000ff" textLength="14.84" lengthAdjust="spacingAndGlyphs">10</text>
<text x="34.05" y="119.35" font-size="8.80" fill="#0000ff" textLength="4.22" lengthAdjust="spacingAndGlyphs">5</text>
<text x="435.53" y="124.15" font-size="12.60" fill="#0000ff" textLength="14.84" lengthAdjust="spacingAndGlyphs">10</text>
<text x="451.35" y="119.35" font-size="8.80" fill="#0000ff" textLength="4.22" lengthAdjust="spacingAndGlyphs">5</text>
<text x="18.23" y="19.40" font-size="12.60" fill="#0000ff" textLength="14.84" lengthAdjust="spacingAndGlyphs">10</text>
<text x="33.95" y="14.60" font-size="8.80" fill="#0000ff" textLength="4.34" lengthAdjust="spacingAndGlyphs">6</text>
<text x="435.53" y="19.40" font-size="12.60" fill="#0000ff" textLength="14.84" lengthAdjust="spacingAndGlyphs">10</text>
<text x="451.25" y="14.60" font-size="8.80" fill="#0000ff" textLength="4.34" lengthAdjust="spacingAndGlyphs">6</text>
<line x1="362.00" y1="615.00" x2="366.40" y2="615.00" stroke="#000" stroke-width="1.10"/>
<text x="370.79" y="619.90" font-size="12.60" fill="#ff0000" textLength="7.33" lengthAdjust="spacingAndGlyphs">0</text>
<line x1="362.00" y1="507.10" x2="366.40" y2="507.10" stroke="#000" stroke-width="1.10"/>
<text x="370.77" y="512.00" font-size="12.60" fill="#ff0000" textLength="7.39" lengthAdjust="spacingAndGlyphs">5</text>
<line x1="362.00" y1="399.20" x2="366.40" y2="399.20" stroke="#000" stroke-width="1.10"/>
<text x="370.26" y="404.10" font-size="12.60" fill="#ff0000" textLength="15.12" lengthAdjust="spacingAndGlyphs">10</text>
<line x1="362.00" y1="291.30" x2="366.40" y2="291.30" stroke="#000" stroke-width="1.10"/>
<text x="370.26" y="296.20" font-size="12.60" fill="#ff0000" textLength="15.16" lengthAdjust="spacingAndGlyphs">15</text>
<line x1="362.00" y1="183.40" x2="366.40" y2="183.40" stroke="#000" stroke-width="1.10"/>
<text x="370.63" y="188.30" font-size="12.60" fill="#ff0000" textLength="14.73" lengthAdjust="spacingAndGlyphs">20</text>
<line x1="362.00" y1="75.50" x2="366.40" y2="75.50" stroke="#000" stroke-width="1.10"/>
<text x="370.63" y="80.40" font-size="12.60" fill="#ff0000" textLength="14.78" lengthAdjust="spacingAndGlyphs">25</text>
<line x1="622.00" y1="119.80" x2="626.40" y2="119.80" stroke="#000" stroke-width="1.10"/>
<text x="631.03" y="124.20" font-size="12.60" fill="#ff0000" textLength="14.84" lengthAdjust="spacingAndGlyphs">10</text>
<text x="646.96" y="119.40" font-size="8.80" fill="#ff0000" textLength="4.19" lengthAdjust="spacingAndGlyphs">0</text>
<line x1="622.00" y1="226.70" x2="626.40" y2="226.70" stroke="#000" stroke-width="1.10"/>
<text x="631.03" y="231.10" font-size="12.60" fill="#ff0000" textLength="14.84" lengthAdjust="spacingAndGlyphs">10</text>
<text x="646.74" y="226.30" font-size="8.80" fill="#ff0000" textLength="11.72" lengthAdjust="spacingAndGlyphs">−2</text>
<line x1="622.00" y1="333.60" x2="626.40" y2="333.60" stroke="#000" stroke-width="1.10"/>
<text x="631.03" y="338.00" font-size="12.60" fill="#ff0000" textLength="14.84" lengthAdjust="spacingAndGlyphs">10</text>
<text x="646.75" y="333.20" font-size="8.80" fill="#ff0000" textLength="11.49" lengthAdjust="spacingAndGlyphs">−4</text>
<line x1="622.00" y1="440.50" x2="626.40" y2="440.50" stroke="#000" stroke-width="1.10"/>
<text x="631.03" y="444.90" font-size="12.60" fill="#ff0000" textLength="14.84" lengthAdjust="spacingAndGlyphs">10</text>
<text x="646.75" y="440.10" font-size="8.80" fill="#ff0000" textLength="11.65" lengthAdjust="spacingAndGlyphs">−6</text>
<line x1="622.00" y1="547.40" x2="626.40" y2="547.40" stroke="#000" stroke-width="1.10"/>
<text x="631.03" y="551.80" font-size="12.60" fill="#ff0000" textLength="14.84" lengthAdjust="spacingAndGlyphs">10</text>
<text x="646.75" y="547.00" font-size="8.80" fill="#ff0000" textLength="11.65" lengthAdjust="spacingAndGlyphs">−8</text>
<line x1="61.60" y1="643.50" x2="61.60" y2="647.90" stroke="#000" stroke-width="1.10"/>
<text x="58.17" y="661.90" font-size="12.60" fill="#000" textLength="6.86" lengthAdjust="spacingAndGlyphs">0</text>
<line x1="127.90" y1="643.50" x2="127.90" y2="647.90" stroke="#000" stroke-width="1.10"/>
<text x="124.30" y="661.90" font-size="12.60" fill="#000" textLength="7.20" lengthAdjust="spacingAndGlyphs">2</text>
<line x1="194.20" y1="643.50" x2="194.20" y2="647.90" stroke="#000" stroke-width="1.10"/>
<text x="190.98" y="661.90" font-size="12.60" fill="#000" textLength="6.51" lengthAdjust="spacingAndGlyphs">4</text>
<line x1="260.50" y1="643.50" x2="260.50" y2="647.90" stroke="#000" stroke-width="1.10"/>
<text x="256.90" y="661.90" font-size="12.60" fill="#000" textLength="7.11" lengthAdjust="spacingAndGlyphs">6</text>
<line x1="326.80" y1="643.50" x2="326.80" y2="647.90" stroke="#000" stroke-width="1.10"/>
<text x="323.30" y="661.90" font-size="12.60" fill="#000" textLength="6.99" lengthAdjust="spacingAndGlyphs">8</text>
<text x="339.25" y="677.60" font-size="12.60" fill="#000" textLength="21.87" lengthAdjust="spacingAndGlyphs">1e6</text>
<line x1="519.40" y1="643.50" x2="519.40" y2="647.90" stroke="#000" stroke-width="1.10"/>
<text x="509.27" y="661.50" font-size="12.60" fill="#000" textLength="14.28" lengthAdjust="spacingAndGlyphs">10</text>
<text x="524.04" y="657.30" font-size="8.80" fill="#000" textLength="5.98" lengthAdjust="spacingAndGlyphs">3</text>
<line x1="574.70" y1="643.50" x2="574.70" y2="647.90" stroke="#000" stroke-width="1.10"/>
<text x="564.57" y="661.50" font-size="12.60" fill="#000" textLength="14.28" lengthAdjust="spacingAndGlyphs">10</text>
<text x="579.32" y="657.30" font-size="8.80" fill="#000" textLength="5.98" lengthAdjust="spacingAndGlyphs">5</text>
<text x="180.25" y="679.30" font-size="12.60" fill="#000" textLength="49.03" lengthAdjust="spacingAndGlyphs">Time (s)</text>
<text x="519.76" y="679.30" font-size="12.60" fill="#000" textLength="48.11" lengthAdjust="spacingAndGlyphs">Time (s)</text>
<text transform="translate(10.00,0) rotate(-90)" x="-393.76" y="0" font-size="12.60" fill="#0000ff" textLength="128.35" lengthAdjust="spacingAndGlyphs">XY Displacement (m)</text>
<text transform="translate(400.20,0) rotate(-90)" x="-405.59" y="0" font-size="12.60" fill="#ff0000" textLength="152.29" lengthAdjust="spacingAndGlyphs">Height Displacement (m)</text>
<text transform="translate(427.40,0) rotate(-90)" x="-393.16" y="0" font-size="12.60" fill="#0000ff" textLength="128.35" lengthAdjust="spacingAndGlyphs">XY Displacement (m)</text>
<text transform="translate(673.50,0) rotate(-90)" x="-405.79" y="0" font-size="12.60" fill="#ff0000" textLength="152.50" lengthAdjust="spacingAndGlyphs">Height Displacement (m)</text>
<rect x="469.5" y="1.3" width="214.3" height="39.8" rx="2.5" ry="2.5" fill="rgba(255,255,255,0.8)" stroke="rgba(204,204,204,0.8)" stroke-width="1"/>
<rect x="474.0" y="6.8" width="24.8" height="8.8" fill="rgba(135,206,235,0.4)" stroke="rgba(135,206,235,0.4)" stroke-width="1"/>
<rect x="474.0" y="25.2" width="24.8" height="8.8" fill="rgba(240,128,128,0.4)" stroke="rgba(240,128,128,0.4)" stroke-width="1"/>
<text x="508.95" y="15.70" font-size="12.60" fill="#000" textLength="145.19" lengthAdjust="spacingAndGlyphs">XY Displacement Range</text>
<text x="508.13" y="33.50" font-size="12.60" fill="#000" textLength="170.53" lengthAdjust="spacingAndGlyphs">Height Displacement Range</text></svg>
</body></html>
